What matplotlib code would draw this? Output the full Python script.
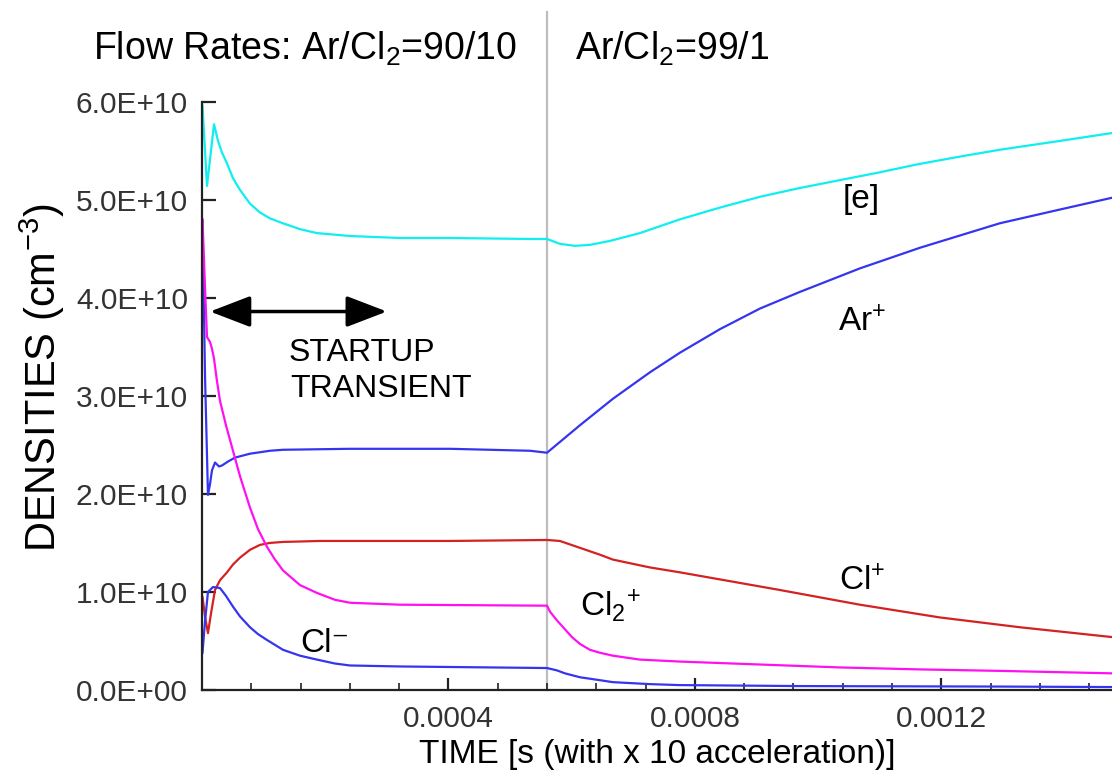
import matplotlib
matplotlib.use("Agg")
import matplotlib.pyplot as plt
import matplotlib.ticker as mticker
import matplotlib.transforms as mtransforms
import numpy as np

plt.rcParams["font.family"] = ["Liberation Sans", "DejaVu Sans"]
plt.rcParams["mathtext.default"] = "regular"

# Time in microseconds (x10 acceleration), densities in units of 1e10 cm^-3
t_e = [0.8, 4.9, 8.1, 19.5, 26.0, 32.5, 40.6, 50.3, 61.7, 77.9, 94.1, 110.3, 131.4,
       159.0, 186.6, 240.2, 321.3, 402.4, 532.3, 560, 580.9, 605.3, 629.6, 662.1,
       710.8, 775.7, 840.6, 905.5, 970.4, 1035.3, 1100.2, 1160.2, 1230.0, 1294.9,
       1392.3, 1476.7]
n_e = [5.96, 5.50, 5.14, 5.77, 5.60, 5.48, 5.37, 5.22, 5.10, 4.96, 4.87, 4.81, 4.76,
       4.70, 4.66, 4.63, 4.61, 4.61, 4.60, 4.60, 4.55, 4.53, 4.54, 4.58, 4.66, 4.80,
       4.92, 5.03, 5.12, 5.20, 5.28, 5.36, 5.44, 5.51, 5.60, 5.68]

t_ar = [0.8, 4.9, 9.7, 13.0, 16.2, 21.1, 27.6, 32.5, 42.2, 53.5, 77.9, 110.3, 131.4,
        240.2, 402.4, 532.3, 560, 613.4, 666.9, 727.0, 775.7, 840.6, 905.5, 970.4,
        1067.8, 1165.1, 1294.9, 1392.3, 1476.7]
n_ar = [4.79, 3.20, 1.99, 2.10, 2.24, 2.32, 2.28, 2.29, 2.33, 2.37, 2.41, 2.44, 2.45,
        2.46, 2.46, 2.44, 2.42, 2.70, 2.97, 3.24, 3.44, 3.68, 3.89, 4.06, 4.30, 4.51,
        4.76, 4.90, 5.02]

t_clp = [0.8, 4.9, 9.7, 14.6, 21.1, 29.2, 40.6, 50.3, 61.7, 77.9, 94.1, 110.3, 131.4,
         191.5, 402.4, 560, 580.9, 613.4, 645.8, 666.9, 727.0, 775.7, 856.8, 937.9,
         1067.8, 1197.6, 1327.4, 1476.7]
n_clp = [0.95, 0.75, 0.58, 0.78, 1.02, 1.12, 1.20, 1.28, 1.35, 1.43, 1.48, 1.50, 1.51,
         1.52, 1.52, 1.53, 1.52, 1.45, 1.38, 1.33, 1.25, 1.20, 1.11, 1.02, 0.87, 0.74,
         0.64, 0.54]

t_cl2p = [0.8, 4.9, 8.1, 13.0, 16.2, 19.5, 24.3, 29.2, 38.9, 50.3, 61.7, 77.9, 90.9,
          105.5, 118.5, 131.4, 159.0, 186.6, 215.8, 240.2, 321.3, 560, 564.7, 576.1,
          589.0, 600.4, 613.4, 629.6, 645.8, 666.9, 710.8, 775.7, 905.5, 1035.3,
          1165.1, 1294.9, 1476.7]
n_cl2p = [4.80, 4.10, 3.60, 3.55, 3.48, 3.38, 3.15, 2.95, 2.70, 2.44, 2.18, 1.86, 1.64,
          1.46, 1.33, 1.22, 1.07, 0.99, 0.92, 0.89, 0.87, 0.86, 0.80, 0.71, 0.62, 0.54,
          0.47, 0.41, 0.38, 0.35, 0.31, 0.29, 0.26, 0.23, 0.21, 0.195, 0.17]

t_clm = [0.8, 4.9, 9.7, 17.8, 29.2, 38.9, 50.3, 61.7, 77.9, 90.9, 105.5, 118.5, 131.4,
         159.0, 186.6, 215.8, 240.2, 321.3, 560, 576.1, 589.0, 613.4, 645.8, 666.9,
         727.0, 775.7, 970.4, 1294.9, 1476.7]
n_clm = [0.38, 0.70, 1.00, 1.05, 1.04, 0.96, 0.85, 0.75, 0.64, 0.57, 0.51, 0.46, 0.41,
         0.35, 0.31, 0.27, 0.25, 0.24, 0.224, 0.20, 0.17, 0.13, 0.10, 0.08, 0.06, 0.05,
         0.04, 0.035, 0.03]

y_ticks = [0, 1, 2, 3, 4, 5, 6]
y_tick_labels = ["0.0E+00", "1.0E+10", "2.0E+10", "3.0E+10", "4.0E+10", "5.0E+10", "6.0E+10"]
x_ticks = [0.0004, 0.0008, 0.0012]
x_tick_labels = ["0.0004", "0.0008", "0.0012"]
t_switch = 0.00056

US = 1e-6


def sec(ts):
    return np.asarray(ts) * US


W, H = 1112, 775
fig = plt.figure(figsize=(W / 100, H / 100), dpi=100)
ax_l, ax_r, ax_t, ax_b = 202, 1112, 101.7, 690
ax = fig.add_axes([ax_l / W, 1 - ax_b / H, (ax_r - ax_l) / W, (ax_b - ax_t) / H])

lw = 1.6
ax.plot(sec(t_e), n_e, color="#10eef0", lw=lw)
ax.plot(sec(t_ar), n_ar, color="#3535f0", lw=lw)
ax.plot(sec(t_clp), n_clp, color="#d42222", lw=lw)
ax.plot(sec(t_cl2p), n_cl2p, color="#ff10f0", lw=lw)
ax.plot(sec(t_clm), n_clm, color="#3535f0", lw=lw)

# switch of flow rates
trans = mtransforms.blended_transform_factory(ax.transData, ax.transAxes)
ax.plot([t_switch, t_switch], [0, (ax_b - 12) / (ax_b - ax_t)], transform=trans,
        color="#bdbdbd", lw=1.6, clip_on=False, zorder=0)

ax.set_xlim(0, 0.001477)
ax.set_ylim(0, 6)
ax.spines["top"].set_visible(False)
ax.spines["right"].set_visible(False)
for s in ("left", "bottom"):
    ax.spines[s].set_linewidth(1.6)
    ax.spines[s].set_color("#222222")

ax.set_yticks(y_ticks)
ax.set_yticklabels(y_tick_labels)
ax.xaxis.set_major_locator(mticker.FixedLocator(x_ticks))
ax.set_xticklabels(x_tick_labels)
ax.xaxis.set_minor_locator(mticker.MultipleLocator(0.00008))
ax.tick_params(axis="y", direction="in", length=10, width=1.6, pad=10,
               labelsize=21.5, labelcolor="#333333", color="#222222")
ax.tick_params(axis="x", which="major", direction="in", length=9, width=1.6, pad=11,
               labelsize=21.5, labelcolor="#333333", color="#222222")
ax.tick_params(axis="x", which="minor", direction="in", length=5, width=1.2,
               color="#222222")

ax.set_xlabel("TIME [s (with x 10 acceleration)]", fontsize=24, labelpad=4)
fig.text(42 / W, 1 - 378 / H, "DENSITIES (cm$^{-3}$)", fontsize=30, rotation=90,
         ha="center", va="center")

lab = dict(fontsize=24, color="black")
ax.text(0.001070, 5.0, "[e]", ha="center", va="center", **lab)
ax.text(0.001072, 3.75, "Ar$^{+}$", ha="center", va="center", **lab)
ax.text(0.001072, 1.1, "Cl$^{+}$", ha="center", va="center", **lab)
ax.text(0.000662, 0.86, "Cl$_{2}$$^{+}$", ha="center", va="center", **lab)
ax.text(0.000200, 0.47, "Cl\u207b", ha="center", va="center", **lab)
ax.text(0.000140, 3.44, "STARTUP", ha="left", va="center", fontsize=23)
ax.text(0.000143, 3.07, "TRANSIENT", ha="left", va="center", fontsize=23)

ax.annotate("", xy=(0.000013, 3.86), xytext=(0.000300, 3.86),
            arrowprops=dict(arrowstyle="<|-|>,head_length=1.25,head_width=0.48",
                            mutation_scale=20, lw=2.5, color="black",
                            shrinkA=0, shrinkB=0))

fig.text(93 / W, 1 - 49 / H, "Flow Rates: Ar/Cl$_2$=90/10", fontsize=27,
         ha="left", va="center")
fig.text(575 / W, 1 - 49 / H, "Ar/Cl$_2$=99/1", fontsize=27, ha="left", va="center")

fig.savefig("out.png", dpi=100)
